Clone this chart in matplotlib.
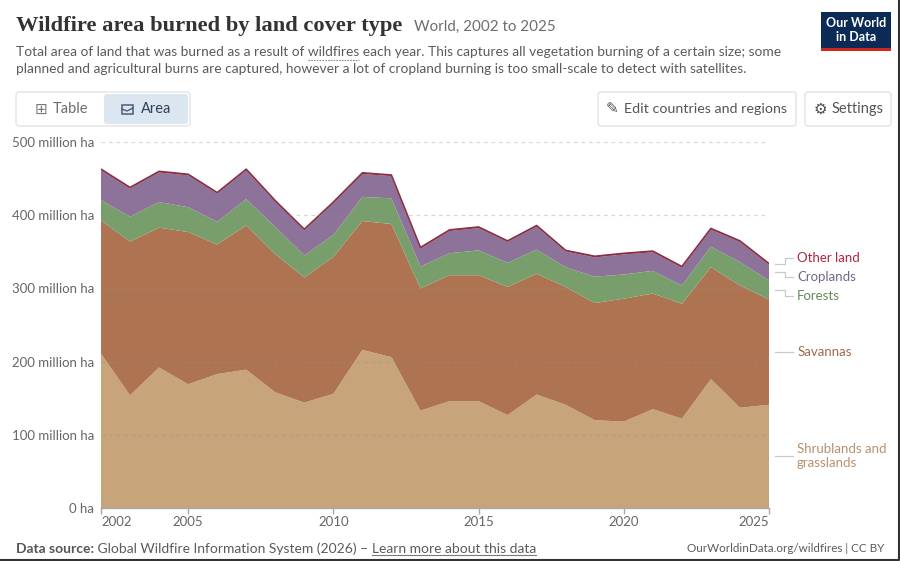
import matplotlib
matplotlib.use("Agg")
import matplotlib.pyplot as plt
from matplotlib.patches import FancyBboxPatch, Rectangle
from matplotlib.transforms import IdentityTransform, blended_transform_factory
from matplotlib.lines import Line2D
import numpy as np

# ---------------- data (million ha) ----------------
years = list(range(2002, 2026))
shrublands = [211, 154, 192, 169, 183, 189, 158, 144, 156, 216, 206, 133,
              146, 146, 127, 155, 141, 120, 118, 135, 122, 176, 137, 141]
savannas = [182, 210, 191, 208, 177, 197, 189, 171, 187, 176, 182, 167,
            172, 172, 175, 165, 161, 160, 168, 158, 157, 153, 167, 144]
forests = [27.5, 34, 35, 34, 31, 36, 37, 30, 30, 33, 35, 30,
           30, 34, 33, 33, 27, 36, 33, 31, 25, 28, 32, 26]
croplands = [41, 38.5, 40.5, 43.5, 38.5, 39.5, 34.5, 34.5, 43.5, 31.5, 30.5, 24.5,
             30.5, 30.5, 28.5, 31.5, 21.5, 26.5, 27.5, 25.5, 24.5, 23.5, 27.5, 21.5]
other_land = [1.5] * 24

series_names = ["Shrublands and\ngrasslands", "Savannas", "Forests", "Croplands", "Other land"]
fill_colors = ["#C8A47B", "#AE7452", "#789E6B", "#8D7399", "#8C2E42"]
label_colors = ["#B8906E", "#A4694C", "#66895A", "#726688", "#B0263F"]

ytick_values = [0, 100, 200, 300, 400, 500]
ytick_labels = ["0 ha", "100 million ha", "200 million ha", "300 million ha",
                "400 million ha", "500 million ha"]
xtick_values = [2002, 2005, 2010, 2015, 2020, 2025]

# ---------------- figure ----------------
W, H = 900, 561
fig = plt.figure(figsize=(W / 100, H / 100), dpi=100)
fig.patch.set_facecolor("white")
FONT = ["Lato", "DejaVu Sans"]


def fx(px):
    return px / W


def fy(py):
    return 1 - py / H


def fit(t, target_w):
    r = fig.canvas.get_renderer()
    w = t.get_window_extent(r).width
    t.set_fontsize(t.get_fontsize() * target_w / w)


def box(x0, y0, x1, y1, fc, ec, r=3, lw=1.0):
    p = FancyBboxPatch((x0, H - y1), x1 - x0, y1 - y0,
                       boxstyle=f"round,pad=0,rounding_size={r}",
                       transform=IdentityTransform(), fc=fc, ec=ec, lw=lw)
    fig.add_artist(p)


# ---------------- header ----------------
title = fig.text(fx(16), fy(26), "Wildfire area burned by land cover type",
                 family=["Liberation Serif", "DejaVu Serif"], weight="bold",
                 fontsize=17, color="#333333", va="center", ha="left")
fit(title, 386)
sub_title = fig.text(fx(414), fy(27), "World, 2002 to 2025", family=FONT,
                     fontsize=12, color="#6e6e6e", va="center", ha="left")
fit(sub_title, 141)

line1 = ("Total area of land that was burned as a result of wildfires each year. "
         "This captures all vegetation burning of a certain size; some")
line2 = ("planned and agricultural burns are captured, however a lot of cropland "
         "burning is too small-scale to detect with satellites.")
s1 = fig.text(fx(16), fy(52), line1, family=FONT, fontsize=9.5, color="#5b5b5b",
              va="center", ha="left")
fit(s1, 769)
fs = s1.get_fontsize()
s2 = fig.text(fx(16), fy(69), line2, family=FONT, fontsize=fs, color="#5b5b5b",
              va="center", ha="left")

# underline "wildfires"
r = fig.canvas.get_renderer()
tmp = fig.text(fx(16), fy(52), "Total area of land that was burned as a result of ",
               family=FONT, fontsize=fs)
wx0 = tmp.get_window_extent(r).x1
tmp.set_text("Total area of land that was burned as a result of wildfires")
wx1 = tmp.get_window_extent(r).x1
tmp.remove()
fig.add_artist(Line2D([wx0, wx1], [H - 60, H - 60], transform=IdentityTransform(),
                      color="#8a8a8a", lw=0.8, ls=(0, (1.5, 1))))

# logo
fig.add_artist(Rectangle((821, H - 48), 70, 36, transform=IdentityTransform(),
                         fc="#0b2a56", ec="none"))
fig.add_artist(Rectangle((821, H - 51), 70, 3.5, transform=IdentityTransform(),
                         fc="#ce261e", ec="none"))
fig.text(fx(856), fy(23), "Our World", family=FONT, weight="bold", fontsize=9,
         color="white", ha="center", va="center")
fig.text(fx(856), fy(37), "in Data", family=FONT, weight="bold", fontsize=9,
         color="white", ha="center", va="center")

# controls
box(16, 92, 190, 126, "white", "#e3e3e3")
box(104, 94, 188, 124, "#dbe6f1", "none", lw=0)
fig.text(fx(41), fy(109), "\u229E", family=["DejaVu Sans"], fontsize=11,
         color="#7a7a7a", ha="center", va="center")
fig.text(fx(53), fy(109), "Table", family=FONT, fontsize=10.5, color="#6b6b6b",
         ha="left", va="center")
fig.add_artist(Rectangle((122, H - 114), 11, 9, transform=IdentityTransform(),
                         fc="none", ec="#4a5e78", lw=1.1))
fig.add_artist(Line2D([122, 127, 133], [H - 109, H - 111, H - 108],
                      transform=IdentityTransform(), color="#4a5e78", lw=1.0))
fig.text(fx(141), fy(109), "Area", family=FONT, fontsize=10.5, color="#2e4057",
         ha="left", va="center")

box(598, 92, 796, 126, "white", "#e3e3e3")
fig.text(fx(612), fy(109), "\u270E", family=["DejaVu Sans"], fontsize=11,
         color="#4d4d4d", ha="center", va="center")
fig.text(fx(624), fy(109), "Edit countries and regions", family=FONT,
         fontsize=10.3, color="#555555", ha="left", va="center")
box(805, 92, 891, 126, "white", "#e3e3e3")
fig.text(fx(820), fy(109), "\u2699", family=["DejaVu Sans"], fontsize=11,
         color="#4d4d4d", ha="center", va="center")
fig.text(fx(832), fy(109), "Settings", family=FONT, fontsize=10.5,
         color="#555555", ha="left", va="center")

# ---------------- chart ----------------
ax = fig.add_axes([fx(101), fy(508), (769 - 101) / W, (508 - 142) / H])
ax.set_facecolor("white")
stack = [shrublands, savannas, forests, croplands, other_land]
ax.stackplot(years, *stack, colors=fill_colors, linewidth=0, zorder=2)
total = np.sum(np.array(stack), axis=0)
ax.plot(years, total, color=fill_colors[-1], lw=1.1, zorder=3,
        solid_joinstyle="round")

ax.set_xlim(2002, 2025)
ax.set_ylim(0, 500)
ax.set_yticks(ytick_values)
ax.set_yticklabels(ytick_labels)
ax.set_xticks(xtick_values)
ax.set_xticklabels([str(v) for v in xtick_values])
for s in ["top", "right", "left"]:
    ax.spines[s].set_visible(False)
ax.spines["bottom"].set_color("#a8a8a8")
ax.spines["bottom"].set_linewidth(1)
ax.spines["bottom"].set_zorder(4)
ax.tick_params(axis="y", length=0, pad=5, labelsize=9.5, labelcolor="#666666")
ax.tick_params(axis="x", length=4, width=1, color="#a8a8a8", pad=2,
               labelsize=9.5, labelcolor="#666666")
for lab in ax.get_yticklabels() + ax.get_xticklabels():
    lab.set_family(FONT)
xl = ax.get_xticklabels()
xl[0].set_horizontalalignment("left")
xl[-1].set_horizontalalignment("right")
for v in ytick_values[1:]:
    ax.axhline(v, color="#8f8f8f", alpha=0.35, lw=0.9, ls=(0, (3, 3)), zorder=3.5)

# labels with connectors
tr = blended_transform_factory(ax.transAxes, ax.transData)
cum = np.cumsum(np.array(stack)[:, -1])
mids = cum - np.array(stack)[:, -1] / 2
label_y = [71, 212.7, 290, 316, 342]
xa, xb, xc, xt = 1.009, 1.024, 1.036, 1.042
for name, col, m, ly in zip(series_names, label_colors, mids, label_y):
    ax.plot([xa, xb, xb, xc], [m, m, ly, ly], transform=tr, color="#c9c9c9",
            lw=0.9, clip_on=False)
    ax.text(xt, ly, name, transform=tr, family=FONT, fontsize=9.5, color=col,
            ha="left", va="center", linespacing=1.15)

# ---------------- footer ----------------
FOOT = 10.0
f1 = fig.text(fx(16), fy(549), "Data source:", family=FONT, weight="bold",
              fontsize=FOOT, color="#555555", ha="left", va="center")
f2 = ax.annotate(" Global Wildfire Information System (2026) \u2013 ", xy=(1, 0.5),
                 xycoords=f1, va="center", ha="left", family=FONT, fontsize=FOOT,
                 color="#5b5b5b", annotation_clip=False)
f3 = ax.annotate("Learn more about this data", xy=(1, 0.5), xycoords=f2,
                 va="center", ha="left", family=FONT, fontsize=FOOT,
                 color="#5b5b5b", annotation_clip=False)
fig.text(fx(884), fy(549), "OurWorldinData.org/wildfires | CC BY", family=FONT,
         fontsize=8.4, color="#5b5b5b", ha="right", va="center")
fig.canvas.draw()
bb = f3.get_window_extent(fig.canvas.get_renderer())
fig.add_artist(Line2D([bb.x0, bb.x1], [bb.y0 + 0.5, bb.y0 + 0.5],
                      transform=IdentityTransform(), color="#7a7a7a", lw=0.8))

# screenshot border
fig.add_artist(Line2D([W - 1, W - 1, 0], [H, 1, 1], transform=IdentityTransform(),
                      color="#333333", lw=1.5))

fig.savefig("out.png", dpi=100, facecolor="white")
